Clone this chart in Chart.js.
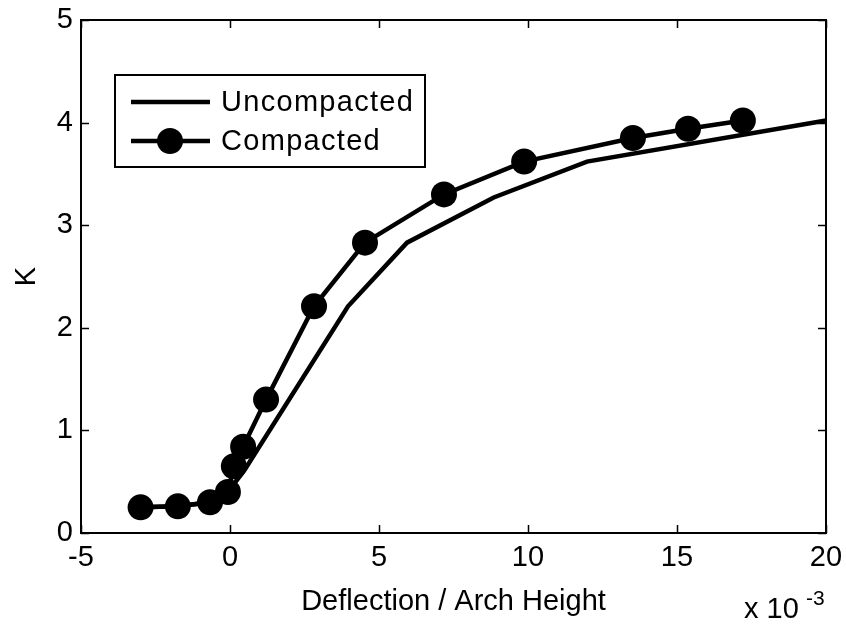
<!doctype html>
<html>
<head>
    <meta charset="UTF-8"/>
    <title>K vs Deflection</title>
    <style type="text/css">
        body{ margin:0; background:#fff; }
        .chartBox{ width:846px; height:624px; }
    </style>
</head>
<body>
    <div class="chartBox">
        <canvas id="myChart" width="846" height="624"></canvas>
    </div>

    <script src="https://cdn.jsdelivr.net/npm/chart.js"></script>

    <script>
        // values (x in units of 1e-3)
        const uncompactedX = [-3.0, -1.75, -0.67, -0.07, 0.5, 3.96, 5.94, 8.85, 11.98, 20.0];
        const uncompactedK = [0.25, 0.26, 0.30, 0.40, 0.62, 2.21, 2.83, 3.27, 3.62, 4.02];
        const compactedX = [-3.0, -1.75, -0.67, -0.07, 0.13, 0.44, 1.21, 2.82, 4.53, 7.18, 9.87, 13.52, 15.37, 17.21];
        const compactedK = [0.25, 0.26, 0.30, 0.40, 0.65, 0.84, 1.30, 2.21, 2.83, 3.30, 3.62, 3.85, 3.94, 4.02];
        const xTicks = [-5, 0, 5, 10, 15, 20];
        const yTicks = [0, 1, 2, 3, 4, 5];

        const FONT = '"Liberation Sans", Arial, sans-serif';

        function toPoints(xs, ys) {
            return xs.map((x, i) => ({ x: x, y: ys[i] }));
        }

        // box around the axes + inward tick marks (MATLAB style)
        const boxTicks = {
            id: 'boxTicks',
            afterDatasetsDraw(chart) {
                const ctx = chart.ctx;
                const a = chart.chartArea;
                const xs = chart.scales.x, ys = chart.scales.y;
                const len = 8;
                ctx.save();
                ctx.strokeStyle = '#000';
                ctx.lineWidth = 1.5;
                ctx.beginPath();
                xTicks.forEach(v => {
                    const px = Math.round(xs.getPixelForValue(v)) + 0.5;
                    ctx.moveTo(px, a.bottom); ctx.lineTo(px, a.bottom - len);
                    ctx.moveTo(px, a.top); ctx.lineTo(px, a.top + len);
                });
                yTicks.forEach(v => {
                    const py = Math.round(ys.getPixelForValue(v)) + 0.5;
                    ctx.moveTo(a.left, py); ctx.lineTo(a.left + len, py);
                    ctx.moveTo(a.right, py); ctx.lineTo(a.right - len, py);
                });
                ctx.stroke();
                ctx.lineWidth = 2;
                ctx.strokeRect(a.left, a.top, a.right - a.left, a.bottom - a.top);

                // exponent label under the x axis
                ctx.fillStyle = '#000';
                ctx.textBaseline = 'alphabetic';
                ctx.textAlign = 'left';
                ctx.font = '29px ' + FONT;
                ctx.fillText('x 10', 744, 618);
                ctx.font = '21px ' + FONT;
                ctx.fillText('-3', 806, 605);
                ctx.restore();
            }
        };

        // legend box drawn inside the axes
        const boxLegend = {
            id: 'boxLegend',
            afterDraw(chart) {
                const ctx = chart.ctx;
                const bx = 115, by = 75, bw = 310, bh = 92;
                ctx.save();
                ctx.fillStyle = '#fff';
                ctx.fillRect(bx, by, bw, bh);
                ctx.strokeStyle = '#000';
                ctx.lineWidth = 2;
                ctx.strokeRect(bx, by, bw, bh);
                const rows = [102, 141];
                chart.data.datasets.forEach((ds, i) => {
                    const y = rows[i];
                    ctx.strokeStyle = ds.borderColor;
                    ctx.lineWidth = ds.borderWidth;
                    ctx.beginPath();
                    ctx.moveTo(131, y); ctx.lineTo(210, y);
                    ctx.stroke();
                    if (ds.pointRadius > 0) {
                        ctx.fillStyle = ds.pointBackgroundColor;
                        ctx.beginPath();
                        ctx.arc(170, y, ds.pointRadius, 0, Math.PI * 2);
                        ctx.fill();
                    }
                    ctx.fillStyle = '#000';
                    ctx.font = '29px ' + FONT;
                    ctx.letterSpacing = '1.3px';
                    ctx.textBaseline = 'middle';
                    ctx.textAlign = 'left';
                    ctx.fillText(ds.label, 221, y + 1);
                });
                ctx.restore();
            }
        };

        const data = {
            datasets: [
                {
                    label: 'Uncompacted',
                    data: toPoints(uncompactedX, uncompactedK),
                    showLine: true,
                    borderColor: '#000',
                    backgroundColor: '#000',
                    borderWidth: 4.5,
                    pointRadius: 0,
                    pointHoverRadius: 0,
                    clip: false
                },
                {
                    label: 'Compacted',
                    data: toPoints(compactedX, compactedK),
                    showLine: true,
                    borderColor: '#000',
                    backgroundColor: '#000',
                    borderWidth: 4.5,
                    pointRadius: 13,
                    pointBackgroundColor: '#000',
                    pointBorderColor: '#000',
                    pointBorderWidth: 0,
                    clip: false
                }
            ]
        };

        const config = {
            type: 'scatter',
            data: data,
            plugins: [boxTicks, boxLegend],
            options: {
                responsive: false,
                animation: false,
                devicePixelRatio: 1,
                layout: { padding: { top: 20, right: 20, left: 0, bottom: 0 } },
                plugins: {
                    legend: { display: false },
                    tooltip: { enabled: false }
                },
                scales: {
                    x: {
                        type: 'linear',
                        min: -5,
                        max: 20,
                        afterFit(s) { s.height = 91; s.paddingLeft = 0; s.paddingRight = 0; },
                        afterBuildTicks(s) { s.ticks = xTicks.map(v => ({ value: v })); },
                        grid: { display: false, drawTicks: false },
                        border: { display: false },
                        ticks: {
                            color: '#000',
                            padding: 8,
                            maxRotation: 0,
                            font: { family: FONT, size: 29 }
                        },
                        title: {
                            display: true,
                            text: 'Deflection / Arch Height',
                            color: '#000',
                            font: { family: FONT, size: 29 },
                            padding: { top: 0, bottom: 5 }
                        }
                    },
                    y: {
                        type: 'linear',
                        min: 0,
                        max: 5,
                        afterFit(s) { s.width = 81; s.paddingTop = 0; s.paddingBottom = 0; },
                        afterBuildTicks(s) { s.ticks = yTicks.map(v => ({ value: v })); },
                        grid: { display: false, drawTicks: false },
                        border: { display: false },
                        ticks: {
                            color: '#000',
                            padding: 8,
                            font: { family: FONT, size: 29 }
                        },
                        title: {
                            display: true,
                            text: 'K',
                            color: '#000',
                            font: { family: FONT, size: 29 },
                            padding: { top: 10, bottom: 0 }
                        }
                    }
                }
            }
        };

        const myChart = new Chart(document.getElementById('myChart'), config);
    </script>
</body>
</html>
